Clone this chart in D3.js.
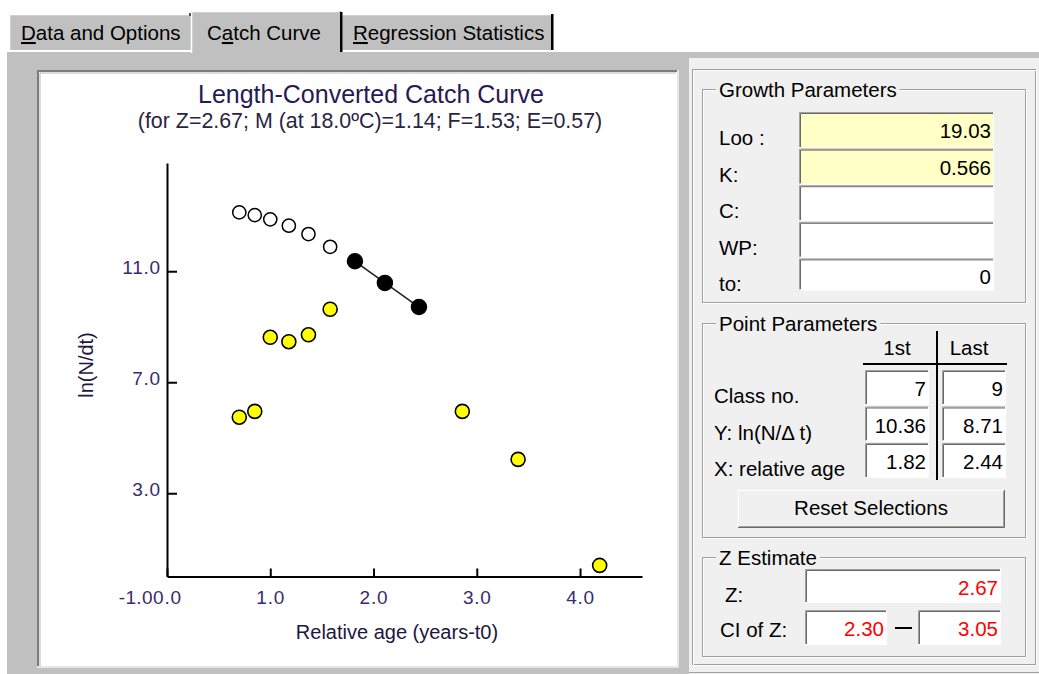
<!DOCTYPE html>
<html>
<head>
<meta charset="utf-8">
<script src="https://cdn.jsdelivr.net/npm/d3@7"></script>
<style>
  html, body { margin: 0; padding: 0; background: #fff; }
  svg { display: block; font-family: "Liberation Sans", Arial, sans-serif; }
</style>
</head>
<body>
<svg id="win" width="1039" height="674"></svg>
<script>
// ---- data -------------------------------------------------------------
// length classes and their relative ages (years - t0)
const classNo  = [1, 2, 3, 4, 5, 6, 7, 8, 9, 10, 11, 12];
const relAge   = [0.70, 0.85, 1.00, 1.18, 1.37, 1.58, 1.82, 2.11, 2.44, 2.86, 3.40, 4.19];
// ln(N/dt) along the catch curve (classes 1-9)
const lnNdt    = [12.12, 12.02, 11.87, 11.64, 11.34, 10.88, 10.36, 9.58, 8.71, null, null, null];
// second point set (yellow markers)
const lnNdtAlt = [4.74, 4.95, 7.62, 7.46, 7.71, 8.63, null, null, null, 4.95, 3.22, -0.60];
// classes used in the regression
const firstSel = 7, lastSel = 9;

// axis ticks
const xTicks      = [0, 1, 2, 3, 4];
const xTickLabels = ["0.0", "1.0", "2.0", "3.0", "4.0"];
const yTicks      = [3, 7, 11];
const yTickLabels = ["3.0", "7.0", "11.0"];

// growth parameters
const growthLabels = ["Loo :", "K:", "C:", "WP:", "to:"];
const growthValues = ["19.03", "0.566", "", "", "0"];
const growthFilled = [true, true, false, false, false];

// mortality estimates
const zEst = 2.67, mEst = 1.14, fEst = 1.53, eEst = 0.57, tempC = 18.0;
const zCI  = [2.30, 3.05];

// ---- drawing ------------------------------------------------------------
const svg = d3.select("#win");
const UI = "#f0f0f0", BODY = "#c0c0c0";
const uiFont = "20.5px";

svg.append("rect").attr("width", 1039).attr("height", 674).attr("fill", "#fff");

// tab strip
function tab(x0, x1, y0, y1, label, ulIndex, active) {
  const g = svg.append("g");
  g.append("rect").attr("x", x0).attr("y", y0).attr("width", x1 - x0).attr("height", y1 - y0)
    .attr("fill", BODY);
  g.append("path").attr("d", `M${x0 + 0.5},${y1}V${y0 + 2}Q${x0 + 0.5},${y0 + 0.5} ${x0 + 2},${y0 + 0.5}H${x1 - 2}`)
    .attr("fill", "none").attr("stroke", "#fff").attr("stroke-width", 1.5);
  const t = g.append("text").attr("x", x0 + (active ? 16 : 12)).attr("y", 40)
    .attr("font-size", "20.5px").attr("fill", "#000");
  t.append("tspan").text(label.slice(0, ulIndex));
  t.append("tspan").style("text-decoration", "underline").text(label[ulIndex]);
  t.append("tspan").text(label.slice(ulIndex + 1));
  return g;
}
svg.append("rect").attr("x", 7).attr("y", 51).attr("width", 1032).attr("height", 623).attr("fill", BODY);
svg.append("line").attr("x1", 7).attr("x2", 1039).attr("y1", 51).attr("y2", 51)
  .attr("stroke", "#fff").attr("stroke-width", 2);
tab(9, 191, 14, 50, "Data and Options", 0, false);
tab(341, 553, 14, 50, "Regression Statistics", 0, false);
tab(191, 341, 11, 53, "Catch Curve", 1, true);
svg.append("rect").attr("x", 340).attr("y", 12).attr("width", 2.5).attr("height", 40).attr("fill", "#000");
svg.append("rect").attr("x", 551).attr("y", 14).attr("width", 2.5).attr("height", 36).attr("fill", "#000");
svg.append("rect").attr("x", 189).attr("y", 13).attr("width", 2).attr("height", 3).attr("fill", "#555");

// chart panel (sunken white box)
svg.append("rect").attr("x", 37).attr("y", 70).attr("width", 640).attr("height", 596).attr("fill", "#fff");
svg.append("path").attr("d", "M38,666V71H677").attr("fill", "none").attr("stroke", "#7c7c7c").attr("stroke-width", 2);
svg.append("path").attr("d", "M40,666V73H676").attr("fill", "none").attr("stroke", "#b8b8b8").attr("stroke-width", 1);
svg.append("path").attr("d", "M678,70V667H37").attr("fill", "none").attr("stroke", "#e6e6e6").attr("stroke-width", 2);

// scales
const x = d3.scaleLinear().domain([0, 4.6]).range([167, 642]);
const y = d3.scaleLinear().domain([-1, 13.9]).range([576.5, 163]);
// scale used for the y-axis tick labels
const yAxisScale = y.copy().domain(y.domain().map(v => v + 1));

const tickColor = "#3a2a70";
const textColor = "#1c1740";

// titles
svg.append("text").attr("x", 371).attr("y", 103).attr("text-anchor", "middle")
  .attr("font-size", "25px").attr("fill", "#261a55").text("Length-Converted Catch Curve");
svg.append("text").attr("x", 370).attr("y", 128).attr("text-anchor", "middle")
  .attr("font-size", "21.4px").attr("fill", "#2a2440")
  .text(`(for Z=${zEst.toFixed(2)}; M (at ${tempC.toFixed(1)}\u00BAC)=${mEst.toFixed(2)}; F=${fEst.toFixed(2)}; E=${eEst.toFixed(2)})`);

// axes
const gx = svg.append("g").attr("transform", `translate(0,${y(-1)})`)
  .call(d3.axisBottom(x).tickValues(xTicks).tickFormat((d, i) => xTickLabels[i])
    .tickSize(-8).tickSizeOuter(0).tickPadding(14));
const gy = svg.append("g").attr("transform", `translate(${x(0)},0)`)
  .call(d3.axisLeft(yAxisScale).tickValues(yTicks).tickFormat((d, i) => yTickLabels[i])
    .tickSize(-10).tickSizeOuter(0).tickPadding(6));
[gx, gy].forEach(g => {
  g.attr("font-family", null).attr("font-size", null);
  g.select(".domain").attr("stroke", "#000").attr("stroke-width", 2);
  g.selectAll(".tick line").attr("stroke", "#000").attr("stroke-width", 2);
  g.selectAll(".tick text").attr("fill", tickColor).attr("font-size", "19px")
    .style("letter-spacing", "0.8px");
});
gy.selectAll(".tick text").attr("dy", "0.12em");

// origin label of the y axis
svg.append("text").attr("x", 153).attr("y", 604).attr("text-anchor", "end")
  .attr("font-size", "19px").attr("fill", tickColor).style("letter-spacing", "0.4px")
  .text(y.domain()[0].toFixed(1));

// axis titles
svg.append("text").attr("transform", "translate(93,365) rotate(-90)").attr("text-anchor", "middle")
  .attr("font-size", "20px").attr("fill", textColor).text("ln(N/dt)");
svg.append("text").attr("x", 397).attr("y", 639).attr("text-anchor", "middle")
  .attr("font-size", "20px").attr("fill", textColor).text("Relative age (years-t0)");

// point records
const pts = classNo.map((c, i) => ({ c, age: relAge[i], v: lnNdt[i], alt: lnNdtAlt[i] }));
const selPts = pts.filter(p => p.c >= firstSel && p.c <= lastSel);

// least-squares line through the selected classes
const mx = d3.mean(selPts, p => p.age), my = d3.mean(selPts, p => p.v);
const slope = d3.sum(selPts, p => (p.age - mx) * (p.v - my)) / d3.sum(selPts, p => (p.age - mx) ** 2);
const x0 = selPts[0].age, x1 = selPts[selPts.length - 1].age;
svg.append("line")
  .attr("x1", x(x0)).attr("y1", y(my + slope * (x0 - mx)))
  .attr("x2", x(x1)).attr("y2", y(my + slope * (x1 - mx)))
  .attr("stroke", "#222").attr("stroke-width", 1.6);

// yellow markers
svg.append("g").selectAll("circle").data(pts.filter(p => p.alt !== null)).join("circle")
  .attr("cx", p => x(p.age)).attr("cy", p => y(p.alt)).attr("r", 7)
  .attr("fill", "#ffff00").attr("stroke", "#000").attr("stroke-width", 1.6);

// catch-curve markers: open = not used, filled = used in regression
svg.append("g").selectAll("circle").data(pts.filter(p => p.v !== null)).join("circle")
  .attr("cx", p => x(p.age)).attr("cy", p => y(p.v))
  .attr("r", p => (p.c >= firstSel && p.c <= lastSel) ? 7.5 : 6.6)
  .attr("fill", p => (p.c >= firstSel && p.c <= lastSel) ? "#000" : "#fff")
  .attr("stroke", "#000").attr("stroke-width", 1.5);

// ---- right-hand parameter panel ----------------------------------------
svg.append("rect").attr("x", 689).attr("y", 58).attr("width", 350).attr("height", 616).attr("fill", UI);
svg.append("rect").attr("x", 692.5).attr("y", 69.5).attr("width", 343).attr("height", 595)
  .attr("fill", "none").attr("stroke", "#a0a0a0");
svg.append("rect").attr("x", 693.5).attr("y", 70.5).attr("width", 343).attr("height", 595)
  .attr("fill", "none").attr("stroke", "#fff");
svg.append("line").attr("x1", 689).attr("x2", 1039).attr("y1", 672.5).attr("y2", 672.5).attr("stroke", "#a0a0a0");

function groupBox(x0, y0, w, h, title) {
  svg.append("rect").attr("x", x0 + 1.5).attr("y", y0 + 1.5).attr("width", w).attr("height", h)
    .attr("fill", "none").attr("stroke", "#fff");
  svg.append("rect").attr("x", x0 + 0.5).attr("y", y0 + 0.5).attr("width", w).attr("height", h)
    .attr("fill", "none").attr("stroke", "#a0a0a0");
  const t = svg.append("text").attr("x", x0 + 17).attr("y", y0 + 8)
    .attr("font-size", uiFont).attr("fill", "#000").text(title);
  const bb = t.node().getBBox();
  svg.insert("rect", () => t.node()).attr("x", bb.x - 3).attr("y", y0 - 2).attr("width", bb.width + 6)
    .attr("height", 6).attr("fill", UI);
}

function field(x0, y0, w, h, fill, value, color) {
  svg.append("rect").attr("x", x0).attr("y", y0).attr("width", w).attr("height", h).attr("fill", fill);
  svg.append("path").attr("d", `M${x0 + 0.5},${y0 + h}V${y0 + 0.5}H${x0 + w}`)
    .attr("fill", "none").attr("stroke", "#a0a0a0");
  svg.append("path").attr("d", `M${x0 + 1.5},${y0 + h - 1}V${y0 + 1.5}H${x0 + w - 1}`)
    .attr("fill", "none").attr("stroke", "#696969");
  svg.append("path").attr("d", `M${x0},${y0 + h - 0.5}H${x0 + w - 0.5}V${y0}`)
    .attr("fill", "none").attr("stroke", "#fff");
  svg.append("text").attr("x", x0 + w - 3).attr("y", y0 + 26).attr("text-anchor", "end")
    .attr("font-size", uiFont).attr("fill", color || "#000").text(value);
}

function label(x0, y0, s) {
  return svg.append("text").attr("x", x0).attr("y", y0).attr("font-size", uiFont).attr("fill", "#000").text(s);
}

// Growth Parameters
groupBox(702, 89, 323, 213, "Growth Parameters");
growthLabels.forEach((s, i) => {
  const top = 112 + i * 36.6;
  field(799, top, 195, i === 4 ? 32 : 36, growthFilled[i] ? "#ffffc6" : "#fff", growthValues[i]);
  label(719, top + 33, s);
});

// Point Parameters
groupBox(702, 323, 323, 214, "Point Parameters");
svg.append("text").attr("x", 897).attr("y", 355).attr("text-anchor", "middle").attr("font-size", uiFont).text("1st");
svg.append("text").attr("x", 969).attr("y", 355).attr("text-anchor", "middle").attr("font-size", uiFont).text("Last");
svg.append("line").attr("x1", 863).attr("x2", 1007).attr("y1", 364).attr("y2", 364).attr("stroke", "#000").attr("stroke-width", 2);
svg.append("line").attr("x1", 937).attr("x2", 937).attr("y1", 331).attr("y2", 480).attr("stroke", "#000").attr("stroke-width", 2);
const iF = firstSel - 1, iL = lastSel - 1;
const pointRows = [
  ["Class no.", String(classNo[iF]), String(classNo[iL])],
  ["Y: ln(N/\u0394 t)", lnNdt[iF].toFixed(2), lnNdt[iL].toFixed(2)],
  ["X: relative age", relAge[iF].toFixed(2), relAge[iL].toFixed(2)]
];
pointRows.forEach((r, i) => {
  const top = 370 + i * 36.5;
  field(865, top, 64, 35, "#fff", r[1]);
  field(942, top, 64, 35, "#fff", r[2]);
  label(714, top + 33, r[0]);
});

// Reset Selections button
svg.append("rect").attr("x", 738).attr("y", 490).attr("width", 267).attr("height", 38).attr("fill", UI);
svg.append("path").attr("d", "M738.5,528V490.5H1005").attr("fill", "none").attr("stroke", "#fff").attr("stroke-width", 1);
svg.append("path").attr("d", "M738,527.5H1004.5V490").attr("fill", "none").attr("stroke", "#696969").attr("stroke-width", 1);
svg.append("path").attr("d", "M739,526.5H1003.5V491").attr("fill", "none").attr("stroke", "#a0a0a0").attr("stroke-width", 1);
svg.append("text").attr("x", 871).attr("y", 515).attr("text-anchor", "middle").attr("font-size", uiFont).text("Reset Selections");

// Z Estimate
groupBox(702, 557, 323, 99, "Z Estimate");
label(725, 602, "Z:");
field(805, 569, 196, 34, "#fff", zEst.toFixed(2), "#ff0000");
label(720, 637, "CI of Z:");
field(805, 610, 82, 35, "#fff", zCI[0].toFixed(2), "#ff0000");
svg.append("line").attr("x1", 895).attr("x2", 912).attr("y1", 628).attr("y2", 628).attr("stroke", "#000").attr("stroke-width", 2);
field(918, 610, 83, 35, "#fff", zCI[1].toFixed(2), "#ff0000");
</script>
</body>
</html>
